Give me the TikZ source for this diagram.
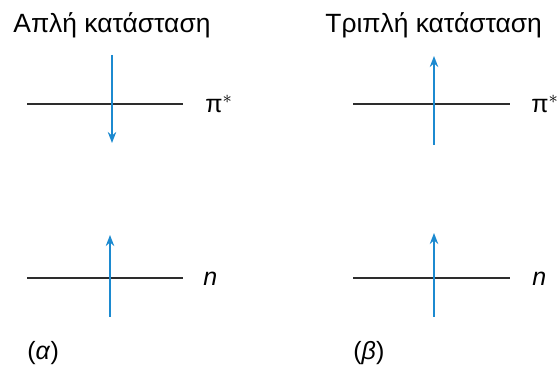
\documentclass[tikz,border=0pt]{standalone}
\usepackage{fontspec}
\setmainfont{Liberation Sans}
\usepackage{xcolor}
\usetikzlibrary{arrows.meta}
\definecolor{spinblue}{RGB}{28,138,208}
\definecolor{levelgray}{RGB}{45,45,45}

\begin{document}
\begin{tikzpicture}[x=0.5pt,y=-0.5pt,>={Stealth[length=5.5pt,width=4.2pt]},line join=round,
  level/.style={line width=0.9pt,levelgray},
  spin/.style={->,line width=1pt,spinblue},
  lbl/.style={anchor=west,inner sep=0pt,font=\fontsize{12.5}{15}\selectfont},
  ttl/.style={anchor=base west,inner sep=0pt,font=\fontsize{13.2}{16}\selectfont}]
  \useasboundingbox (0,0) rectangle (557,368);
  % (a) singlet
  \coordinate (SP0) at (27,104);
  \coordinate (SP1) at (183,104);
  \coordinate (SN0) at (27,278);
  \coordinate (SN1) at (183,278);
  \coordinate (SU0) at (112,55);
  \coordinate (SU1) at (112,143);
  \coordinate (SD0) at (110,317);
  \coordinate (SD1) at (110,235);
  \draw[level] (SP0) -- (SP1);
  \draw[level] (SN0) -- (SN1);
  \draw[spin] (SU0) -- (SU1);
  \draw[spin] (SD0) -- (SD1);
  \node[ttl] (ST) at (13,33) {Απλή κατάσταση};
  \node[lbl] (SPL) at (205,104) {π$^{\ast}$};
  \node[lbl] (SNL) at (203,279) {\itshape n};
  \node[lbl] (SC) at (27,353) {(\textit{α})};
  % (b) triplet
  \coordinate (TP0) at (353,104);
  \coordinate (TP1) at (510,104);
  \coordinate (TN0) at (353,278);
  \coordinate (TN1) at (510,278);
  \coordinate (TU0) at (434,145);
  \coordinate (TU1) at (434,56);
  \coordinate (TD0) at (434,317);
  \coordinate (TD1) at (434,233);
  \draw[level] (TP0) -- (TP1);
  \draw[level] (TN0) -- (TN1);
  \draw[spin] (TU0) -- (TU1);
  \draw[spin] (TD0) -- (TD1);
  \node[ttl] (TT) at (325,33) {Τριπλή κατάσταση};
  \node[lbl] (TPL) at (531,104) {π$^{\ast}$};
  \node[lbl] (TNL) at (532,279) {\itshape n};
  \node[lbl] (TC) at (353,353) {(\textit{β})};
\end{tikzpicture}
\end{document}
